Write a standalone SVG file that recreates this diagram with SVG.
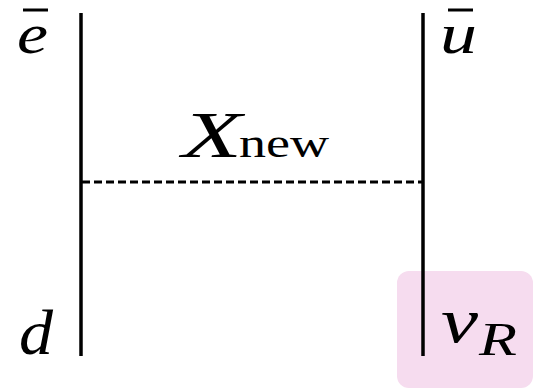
<svg xmlns="http://www.w3.org/2000/svg" width="533" height="390" viewBox="0 0 533 390">
<style>
text{font-family:'Liberation Serif',serif;fill:#000}
.m{font-style:italic}
.bar{stroke:#000;stroke-width:3}
.fer{stroke:#000;stroke-width:3.5;fill:none}
</style>
<rect id="highlight" x="397" y="271" width="136" height="117" rx="12" fill="#f6dcef"/>
<g id="connectors">
<line class="fer" x1="81" y1="13" x2="81" y2="356"/>
<line class="fer" x1="423" y1="13" x2="423" y2="356"/>
<line x1="82" y1="182" x2="422" y2="182" stroke="#000" stroke-width="3" stroke-dasharray="8 4"/>
</g>
<g id="ebar">
<text class="m" x="17" y="53" font-size="56" textLength="31" lengthAdjust="spacingAndGlyphs">e</text>
<line class="bar" x1="23" y1="10" x2="48" y2="10"/>
</g>
<g id="ubar">
<text class="m" x="440" y="53" font-size="56" textLength="37" lengthAdjust="spacingAndGlyphs">u</text>
<line class="bar" x1="448" y1="10" x2="473" y2="10"/>
</g>
<g id="d">
<text class="m" x="19" y="354" font-size="64" textLength="34" lengthAdjust="spacingAndGlyphs">d</text>
</g>
<g id="nuR">
<text class="m" x="441" y="342" font-size="64" textLength="37" lengthAdjust="spacingAndGlyphs">ν</text>
<text class="m" x="479" y="355" font-size="46" textLength="38" lengthAdjust="spacingAndGlyphs">R</text>
</g>
<g id="Xnew">
<text class="m" x="182" y="157" font-size="66" textLength="60" lengthAdjust="spacingAndGlyphs">X</text>
<text x="239" y="157" font-size="40" textLength="90" lengthAdjust="spacingAndGlyphs">new</text>
</g>
</svg>
